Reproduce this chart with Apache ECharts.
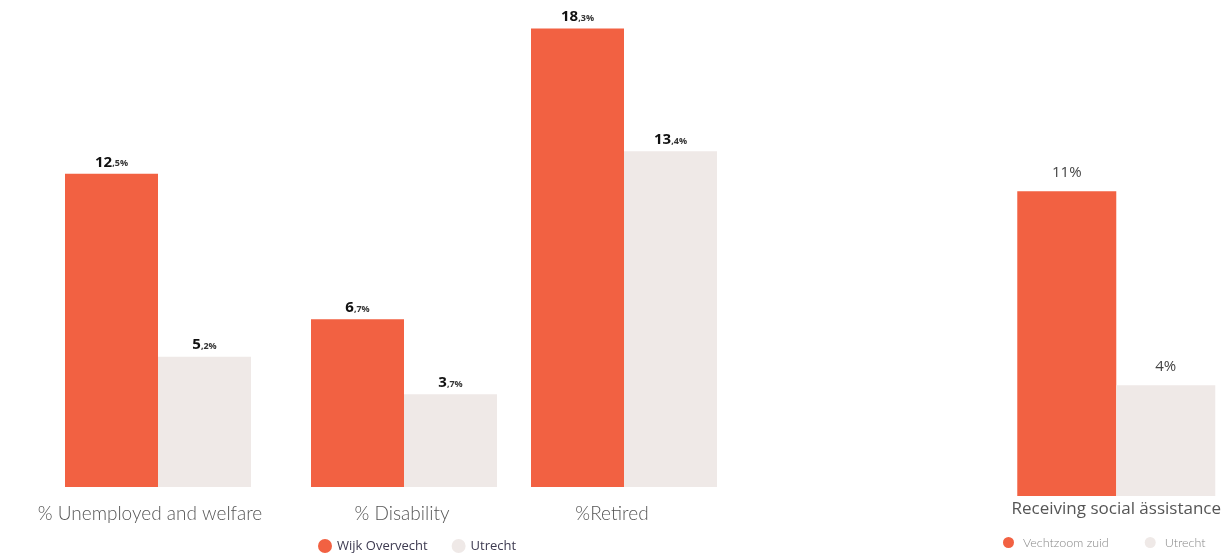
<!DOCTYPE html>
<html>
<head>
<meta charset="utf-8">
<script src="https://cdn.jsdelivr.net/npm/echarts@6/dist/echarts.min.js"></script>
<style>
html,body{margin:0;padding:0;background:#fff;}
#c{width:1224px;height:557px;}
</style>
</head>
<body>
<div id="c"></div>
<script>
// Left chart
var leftCategories = ['% Unemployed and welfare', '% Disability', '%Retired'];
var wijkOvervecht = [12.5, 6.7, 18.3];
var utrechtLeft = [5.2, 3.7, 13.4];
// Right chart
var rightCategories = ['Receiving social ässistance'];
var vechtzoomZuid = [11];
var utrechtRight = [4];

var ORANGE = '#F26142';
var GREY = '#EFE9E7';

var chart = echarts.init(document.getElementById('c'));

var centers = [158, 404, 624];
var labelShift = [16, 4, 24];
var grids = [], xAxes = [], yAxes = [], series = [];

function leftLabel(p) {
  var s = String(p.value).split('.');
  return '{a|' + s[0] + '}{b|,' + (s[1] || '0') + '%}';
}
var leftRich = {
  a: {fontFamily: 'Open Sans', fontWeight: 'bold', fontSize: 15, color: '#111'},
  b: {fontFamily: 'Open Sans', fontWeight: 'bold', fontSize: 9, color: '#333', padding: [3, 0, 0, 0]}
};

leftCategories.forEach(function (cat, i) {
  grids.push({left: centers[i] - 110, width: 220, top: 11, bottom: 70});
  xAxes.push({
    type: 'category', gridIndex: i, data: [cat],
    axisLine: {show: false}, axisTick: {show: false},
    axisLabel: {margin: 17, fontFamily: 'Lato', fontWeight: 300, fontSize: 19, color: '#555',
      padding: [0, labelShift[i], 0, 0]}
  });
  yAxes.push({type: 'value', gridIndex: i, min: 0, max: 19, show: false, splitLine: {show: false}});
  series.push({
    name: 'Wijk Overvecht', type: 'bar', xAxisIndex: i, yAxisIndex: i,
    data: [wijkOvervecht[i]], barWidth: 93, barGap: '0%',
    itemStyle: {color: ORANGE},
    label: {show: true, position: 'top', distance: 4, formatter: leftLabel, rich: leftRich}
  });
  series.push({
    name: 'Utrecht', type: 'bar', xAxisIndex: i, yAxisIndex: i,
    data: [utrechtLeft[i]], barWidth: 93, barGap: '0%',
    itemStyle: {color: GREY},
    label: {show: true, position: 'top', distance: 4, formatter: leftLabel, rich: leftRich}
  });
});

// right chart
grids.push({left: 1119 - 110, width: 220, top: 108, bottom: 61});
xAxes.push({
  type: 'category', gridIndex: 3, data: rightCategories,
  axisLine: {show: false}, axisTick: {show: false},
  axisLabel: {margin: 5, fontFamily: 'Open Sans', fontSize: 17, color: '#555'}
});
yAxes.push({type: 'value', gridIndex: 3, min: 0, max: 14, show: false, splitLine: {show: false}});
var rightLabel = {
  show: true, position: 'top', distance: 11,
  formatter: '{c}%', fontFamily: 'Open Sans', fontSize: 15, color: '#444'
};
series.push({
  name: 'Vechtzoom zuid', type: 'bar', xAxisIndex: 3, yAxisIndex: 3,
  data: vechtzoomZuid, barWidth: 99, barGap: '0%',
  itemStyle: {color: ORANGE}, label: rightLabel
});
series.push({
  name: 'Utrecht', type: 'bar', xAxisIndex: 3, yAxisIndex: 3,
  data: utrechtRight, barWidth: 99, barGap: '0%',
  itemStyle: {color: GREY}, label: rightLabel
});

chart.setOption({
  animation: false,
  grid: grids,
  xAxis: xAxes,
  yAxis: yAxes,
  legend: [
    {
      data: ['Wijk Overvecht', 'Utrecht'], left: 318, top: 539, padding: 0,
      icon: 'circle', itemWidth: 14, itemHeight: 14, itemGap: 24,
      textStyle: {fontFamily: 'Open Sans', fontSize: 13, color: '#3d3a50'}
    },
    {
      data: ['Vechtzoom zuid', 'Utrecht'], left: 1003, top: 536, padding: 0,
      icon: 'circle', itemWidth: 19, itemHeight: 11, itemGap: 36,
      textStyle: {fontFamily: 'Lato', fontWeight: 300, fontSize: 12.5, color: '#888'}
    }
  ],
  series: series
});
</script>
</body>
</html>
